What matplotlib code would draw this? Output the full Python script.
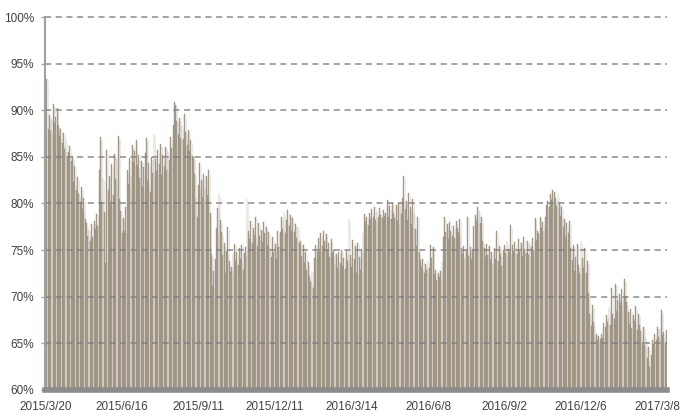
import numpy as np
import matplotlib
matplotlib.use("Agg")
import matplotlib.pyplot as plt
from matplotlib.ticker import FuncFormatter

# daily ratio (%)
values = [
    80.0, 93.4, 88.0, 89.5, 87.8, 89.0, 90.7, 88.6, 89.3, 90.2,
    88.4, 87.2, 88.0, 86.5, 87.6, 85.8, 86.7, 84.9, 85.5, 86.2,
    84.6, 85.1, 82.3, 84.0, 81.5, 82.8, 81.0, 80.2, 81.8, 79.4,
    80.6, 78.3, 77.9, 76.5, 77.2, 76.0, 77.8, 76.4, 78.1, 77.3,
    78.9, 77.6, 83.6, 87.1, 80.2, 82.7, 79.1, 73.6, 85.7, 81.4,
    83.0, 79.8, 84.2, 80.9, 85.3, 82.6, 84.8, 87.2, 80.5, 79.2,
    76.8, 78.4, 77.1, 79.6, 83.6, 82.1, 84.9, 83.0, 86.3, 84.4,
    85.6, 86.8, 84.1, 85.2, 82.7, 84.6, 81.8, 83.9, 85.4, 87.0,
    82.4, 84.3, 81.2, 85.0, 83.3, 87.4, 84.8, 83.5, 85.7, 84.2,
    86.4, 83.1, 85.2, 84.0, 86.1, 83.6, 85.5, 84.7, 87.1, 86.0,
    88.4, 90.9, 90.6, 88.9, 87.5, 89.2, 87.0, 88.3, 86.9, 89.6,
    87.7, 86.3, 87.9, 85.6, 86.8, 85.1, 85.0, 83.2, 80.6, 78.6,
    82.0, 84.3, 82.5, 80.7, 83.2, 81.6, 82.9, 80.9, 83.6, 79.0,
    74.6, 71.1, 72.8, 74.0, 77.4, 79.5, 81.0, 78.2, 76.9, 74.5,
    75.8, 72.6, 74.9, 77.5, 73.8, 72.7, 73.2, 74.6, 75.7, 73.9,
    74.8, 73.4, 75.2, 74.1, 75.6, 72.9, 74.7, 75.3, 80.5, 77.0,
    76.2, 78.1, 75.8, 77.4, 76.6, 78.6, 75.4, 77.9, 76.5, 77.2,
    75.9, 78.0, 76.8, 77.5, 75.6, 76.9, 75.2, 74.3, 76.4, 74.8,
    75.7, 74.1, 77.0, 75.3, 76.9, 78.5, 77.3, 79.1, 76.8, 78.2,
    79.3, 77.6, 78.8, 77.1, 78.4, 76.9, 77.8, 76.3, 77.5, 75.8,
    76.0, 74.4, 75.5, 73.6, 74.8, 72.9, 73.7, 72.2, 71.6, 72.8,
    70.9, 74.2, 75.6, 74.8, 76.3, 75.1, 76.8, 75.4, 77.1, 76.0,
    76.7, 74.9, 75.8, 74.3, 76.2, 74.7, 75.0, 73.4, 74.6, 73.1,
    74.8, 73.6, 75.0, 73.3, 74.2, 73.0, 74.9, 73.8, 78.3, 74.5,
    73.2, 76.1, 74.0, 75.4, 72.6, 75.8, 74.3, 72.9, 75.1, 76.8,
    78.9, 78.0, 78.6, 77.7, 79.0, 78.3, 79.4, 78.6, 79.6, 78.2,
    79.1, 78.5, 79.5, 78.8, 78.4, 79.3, 78.7, 79.0, 80.4, 78.6,
    79.7, 78.3, 80.1, 79.0, 78.4, 79.8, 78.1, 80.0, 80.2, 78.9,
    80.6, 82.9, 79.4, 80.3, 78.2, 81.1, 79.6, 77.8, 80.5, 79.0,
    77.3, 75.4, 78.6, 74.8, 73.9, 73.2, 74.0, 72.6, 73.5, 72.9,
    73.8, 73.1, 75.5, 74.2, 75.3, 72.4, 72.9, 71.8, 72.6, 72.1,
    72.8, 73.7, 76.4, 78.6, 76.9, 77.8, 76.2, 78.0, 77.1, 76.5,
    77.6, 76.3, 78.1, 77.4, 76.8, 78.3, 75.2, 74.6, 75.4, 74.1,
    75.0, 78.6, 74.4, 75.3, 74.0, 75.1, 77.6, 78.8, 78.1, 79.6,
    79.2, 77.9, 78.5, 76.0, 75.2, 74.3, 75.7, 74.5, 75.4, 73.9,
    74.8, 73.5, 75.2, 74.1, 77.0, 73.8, 75.4, 74.6, 73.3, 75.0,
    75.6, 74.7, 76.0, 75.1, 74.8, 77.7, 75.5, 74.9, 75.9, 75.2,
    74.6, 76.2, 74.9, 75.8, 74.4, 76.4, 75.1, 74.7, 76.0, 74.5,
    75.9, 75.3, 76.3, 75.0, 78.4, 76.1, 77.0, 76.8, 78.6, 77.4,
    78.0, 77.1, 78.5, 79.8, 80.3, 79.6, 81.0, 80.4, 81.5, 81.2,
    80.6, 79.7, 81.0, 80.1, 78.7, 79.6, 77.5, 78.3, 76.4, 77.9,
    76.8, 78.1, 75.2, 73.9, 75.6, 72.8, 74.3, 75.7, 73.4, 72.6,
    76.0, 74.2, 73.1, 75.2, 72.5, 73.8, 70.4, 68.2, 66.9, 69.1,
    67.3, 65.7, 66.0, 65.4, 65.8, 65.5, 66.0, 65.6, 67.2, 66.8,
    68.0, 67.3, 68.9, 67.0, 70.9, 68.2, 67.6, 71.4, 68.5, 69.6,
    70.3, 69.3, 70.8, 69.7, 71.9, 70.1, 69.4, 68.4, 67.1, 68.7,
    66.6, 68.0, 67.4, 69.0, 66.4, 68.2, 67.0, 66.3, 65.2, 66.8,
    64.8, 65.6, 63.4, 64.6, 62.5, 63.8, 65.4, 64.9, 66.0, 65.4,
    66.8, 65.7, 66.5, 68.6, 65.9, 66.2, 65.0, 66.4,
]

# x labels, one every 60 trading days
date_labels = ["2015/3/20", "2015/6/16", "2015/9/11", "2015/12/11", "2016/3/14",
               "2016/6/8", "2016/9/2", "2016/12/6", "2017/3/8"]
label_step = 60

y_ticks = [60, 65, 70, 75, 80, 85, 90, 95, 100]

plt.rcParams['font.family'] = ['Liberation Sans', 'DejaVu Sans']

fig = plt.figure(figsize=(6.87, 4.20), dpi=100)
ax = fig.add_axes([45 / 687, 30 / 420, 622 / 687, 373 / 420])

x = np.arange(len(values))
vals = np.array(values)

# soft shadow to the right of the bars
ax.bar(x + 1.3, vals - 0.3, width=1.0, color="#dcdad6", alpha=0.55, zorder=1, linewidth=0)
ax.bar(x, vals, width=0.72, color="#aaa293", edgecolor="#918775", linewidth=0.25, zorder=2)

ax.set_xlim(-0.5, len(values) - 0.5)
ax.set_ylim(60, 100)

ax.set_yticks(y_ticks)
ax.yaxis.set_major_formatter(FuncFormatter(lambda v, p: f"{int(v)}%"))
ax.set_xticks(np.arange(len(date_labels)) * label_step)
ax.set_xticklabels(date_labels)

ax.tick_params(axis='y', length=3, width=1, color="#a0a0a0", pad=5, labelsize=8.5, labelcolor="#404040")
ax.tick_params(axis='x', length=0, pad=8, labelsize=8.5, labelcolor="#404040")

for yv in y_ticks[1:]:
    ax.axhline(yv, color="#7f7f7f", linewidth=1.1, linestyle=(0, (4, 3)),
               zorder=3, alpha=0.9, clip_on=False)

for s in ["top", "right"]:
    ax.spines[s].set_visible(False)
ax.spines["left"].set_color("#a0a0a0")
ax.spines["left"].set_linewidth(1.5)
ax.spines["bottom"].set_color("#8c8c8c")
ax.spines["bottom"].set_linewidth(4)
ax.spines["left"].set_zorder(4)
ax.spines["bottom"].set_zorder(4)

fig.savefig("out.png", dpi=100, facecolor="white")
